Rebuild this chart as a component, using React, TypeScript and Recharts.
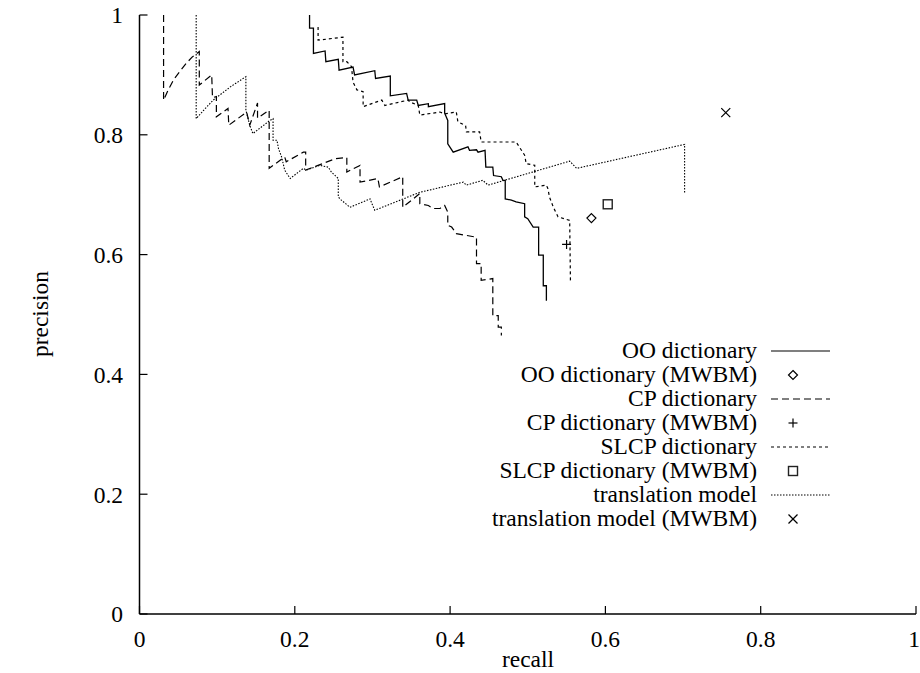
import React from 'react';
import {
  ComposedChart,
  Line,
  Scatter,
  XAxis,
  YAxis,
  Legend,
  Label
} from 'recharts';

const FONT = 'Liberation Serif';
const FS = 23.5;

// tick values
const xTicks = [0, 0.2, 0.4, 0.6, 0.8, 1];
const yTicks = [0, 0.2, 0.4, 0.6, 0.8, 1];

// OO dictionary
const ooRecall = [0.219, 0.219, 0.224, 0.224, 0.239, 0.240, 0.256, 0.257, 0.275, 0.277, 0.303, 0.304, 0.323, 0.323, 0.344, 0.346, 0.357, 0.359, 0.372, 0.372, 0.393, 0.393, 0.397, 0.397, 0.404, 0.423, 0.425, 0.434, 0.436, 0.445, 0.446, 0.455, 0.456, 0.466, 0.468, 0.471, 0.471, 0.479, 0.485, 0.496, 0.496, 0.500, 0.507, 0.514, 0.514, 0.520, 0.520, 0.524, 0.524];
const ooPrecision = [1.000, 0.978, 0.978, 0.936, 0.940, 0.922, 0.926, 0.908, 0.913, 0.900, 0.907, 0.894, 0.898, 0.865, 0.869, 0.858, 0.858, 0.849, 0.852, 0.847, 0.852, 0.836, 0.824, 0.785, 0.771, 0.780, 0.774, 0.775, 0.771, 0.774, 0.746, 0.746, 0.732, 0.730, 0.724, 0.724, 0.693, 0.691, 0.688, 0.685, 0.663, 0.660, 0.646, 0.646, 0.599, 0.599, 0.548, 0.548, 0.523];

// CP dictionary
const cpRecall = [0.031, 0.031, 0.037, 0.044, 0.052, 0.060, 0.068, 0.077, 0.077, 0.093, 0.094, 0.099, 0.099, 0.114, 0.115, 0.138, 0.142, 0.152, 0.152, 0.167, 0.167, 0.187, 0.189, 0.211, 0.214, 0.214, 0.252, 0.267, 0.267, 0.284, 0.284, 0.307, 0.309, 0.339, 0.339, 0.361, 0.361, 0.372, 0.378, 0.387, 0.393, 0.397, 0.397, 0.402, 0.408, 0.434, 0.434, 0.440, 0.440, 0.455, 0.455, 0.462, 0.462, 0.466, 0.466];
const cpPrecision = [1.000, 0.858, 0.875, 0.892, 0.906, 0.919, 0.930, 0.939, 0.883, 0.900, 0.862, 0.864, 0.830, 0.844, 0.816, 0.838, 0.816, 0.853, 0.828, 0.841, 0.744, 0.763, 0.755, 0.771, 0.771, 0.741, 0.760, 0.762, 0.738, 0.749, 0.721, 0.727, 0.713, 0.730, 0.679, 0.702, 0.685, 0.682, 0.677, 0.677, 0.682, 0.671, 0.649, 0.646, 0.635, 0.629, 0.585, 0.585, 0.557, 0.560, 0.498, 0.498, 0.479, 0.479, 0.465];

// SLCP dictionary
const slcpRecall = [0.230, 0.230, 0.262, 0.262, 0.267, 0.273, 0.275, 0.280, 0.288, 0.288, 0.312, 0.316, 0.346, 0.348, 0.359, 0.361, 0.387, 0.393, 0.408, 0.410, 0.420, 0.421, 0.438, 0.440, 0.485, 0.496, 0.498, 0.509, 0.509, 0.524, 0.526, 0.528, 0.533, 0.539, 0.554, 0.555];
const slcpPrecision = [0.980, 0.958, 0.963, 0.922, 0.922, 0.914, 0.888, 0.875, 0.872, 0.847, 0.858, 0.849, 0.858, 0.855, 0.849, 0.833, 0.838, 0.835, 0.838, 0.822, 0.815, 0.805, 0.805, 0.788, 0.788, 0.766, 0.752, 0.749, 0.713, 0.716, 0.710, 0.696, 0.679, 0.663, 0.657, 0.554];

// translation model
const tmRecall = [0.073, 0.073, 0.084, 0.095, 0.117, 0.137, 0.137, 0.142, 0.146, 0.168, 0.172, 0.172, 0.177, 0.179, 0.183, 0.187, 0.194, 0.211, 0.215, 0.232, 0.243, 0.247, 0.256, 0.256, 0.260, 0.271, 0.297, 0.299, 0.303, 0.361, 0.417, 0.421, 0.442, 0.449, 0.554, 0.563, 0.702, 0.702];
const tmPrecision = [1.000, 0.827, 0.843, 0.858, 0.880, 0.897, 0.841, 0.816, 0.802, 0.824, 0.827, 0.791, 0.791, 0.777, 0.763, 0.741, 0.727, 0.744, 0.741, 0.749, 0.746, 0.738, 0.727, 0.696, 0.691, 0.679, 0.693, 0.686, 0.674, 0.704, 0.721, 0.716, 0.724, 0.716, 0.756, 0.744, 0.784, 0.701];

// MWBM single points: OO, CP, SLCP, translation
const mwbmRecall = [0.582, 0.550, 0.603, 0.755];
const mwbmPrecision = [0.661, 0.617, 0.684, 0.837];

const legendLabels = [
  'OO dictionary',
  'OO dictionary (MWBM)',
  'CP dictionary',
  'CP dictionary (MWBM)',
  'SLCP dictionary',
  'SLCP dictionary (MWBM)',
  'translation model',
  'translation model (MWBM)'
];

const toPoints = (xs: number[], ys: number[]) => xs.map((x, i) => ({ x, y: ys[i] }));

const DASH = {
  oo: undefined,
  cp: '7 4',
  slcp: '3 3',
  tm: '1.5 1.5'
};

// marker shapes
const drawMarker = (kind: string, cx: number, cy: number) => {
  const s = 4.5;
  switch (kind) {
    case 'diamond':
      return <path d={`M${cx},${cy - s}L${cx + s},${cy}L${cx},${cy + s}L${cx - s},${cy}Z`} fill="none" stroke="#000" strokeWidth={1.2} />;
    case 'plus':
      return (
        <g stroke="#000" strokeWidth={1.2}>
          <line x1={cx - s} y1={cy} x2={cx + s} y2={cy} />
          <line x1={cx} y1={cy - s} x2={cx} y2={cy + s} />
        </g>
      );
    case 'square':
      return <rect x={cx - s} y={cy - s} width={2 * s} height={2 * s} fill="none" stroke="#222" strokeWidth={1.4} />;
    default:
      return (
        <g stroke="#000" strokeWidth={1.2}>
          <line x1={cx - s} y1={cy - s} x2={cx + s} y2={cy + s} />
          <line x1={cx - s} y1={cy + s} x2={cx + s} y2={cy - s} />
        </g>
      );
  }
};

const markerKinds = ['diamond', 'plus', 'square', 'cross'];

const renderLegend = () => {
  const rowY = (i: number) => 351 + i * 24;
  const samples: Array<{ dash?: string; marker?: string }> = [
    { dash: 'solid' },
    { marker: 'diamond' },
    { dash: DASH.cp },
    { marker: 'plus' },
    { dash: DASH.slcp },
    { marker: 'square' },
    { dash: DASH.tm },
    { marker: 'cross' }
  ];
  return (
    <svg width={920} height={673} style={{ position: 'absolute', left: 0, top: 0 }}>
      {legendLabels.map((label, i) => (
        <g key={label}>
          <text x={757} y={rowY(i) + 7} textAnchor="end" style={{ fontFamily: FONT, fontSize: FS }} fill="#000">
            {label}
          </text>
          {samples[i].marker
            ? drawMarker(samples[i].marker as string, 793, rowY(i))
            : (
              <line
                x1={771}
                x2={830}
                y1={rowY(i)}
                y2={rowY(i)}
                stroke="#000"
                strokeWidth={1.2}
                strokeDasharray={samples[i].dash === 'solid' ? undefined : samples[i].dash}
              />
            )}
        </g>
      ))}
    </svg>
  );
};

const tickStyle = { fill: '#000', fontSize: FS, fontFamily: FONT, style: { fontFamily: FONT } };

export default function App() {
  const series = [
    { key: 'oo', data: toPoints(ooRecall, ooPrecision), dash: DASH.oo, width: 1.3 },
    { key: 'cp', data: toPoints(cpRecall, cpPrecision), dash: DASH.cp, width: 1.2 },
    { key: 'slcp', data: toPoints(slcpRecall, slcpPrecision), dash: DASH.slcp, width: 1.2 },
    { key: 'tm', data: toPoints(tmRecall, tmPrecision), dash: DASH.tm, width: 1.1 }
  ];
  const mwbm = toPoints(mwbmRecall, mwbmPrecision);

  return (
    <div style={{ position: 'absolute', left: 0, top: 0, width: 920, height: 673, background: '#fff', fontFamily: FONT }}>
      <ComposedChart width={920} height={673} margin={{ top: 15, right: 4, bottom: 0, left: 0 }}>
        <XAxis
          xAxisId="b"
          type="number"
          dataKey="x"
          domain={[0, 1]}
          ticks={xTicks}
          allowDataOverflow
          height={59}
          tickSize={-8}
          tickMargin={24}
          tick={tickStyle}
          tickLine={{ stroke: '#000', strokeWidth: 1.2 }}
          axisLine={{ stroke: '#000', strokeWidth: 1.5 }}
        >
          <Label
            content={() => (
              <text x={528} y={667} textAnchor="middle" style={{ fontFamily: FONT, fontSize: FS }} fill="#000">
                recall
              </text>
            )}
          />
        </XAxis>
        <XAxis
          xAxisId="t"
          orientation="top"
          type="number"
          dataKey="x"
          domain={[0, 1]}
          ticks={xTicks}
          allowDataOverflow
          height={0}
          tickSize={-8}
          tickFormatter={() => ''}
          tickLine={{ stroke: '#000', strokeWidth: 1.2 }}
          axisLine={{ stroke: '#000', strokeWidth: 1.5 }}
        />
        <YAxis
          yAxisId="l"
          type="number"
          dataKey="y"
          domain={[0, 1]}
          ticks={yTicks}
          allowDataOverflow
          width={139.5}
          tickSize={-8}
          tickMargin={24.5}
          tick={tickStyle}
          tickLine={{ stroke: '#000', strokeWidth: 1.2 }}
          axisLine={{ stroke: '#000', strokeWidth: 1.5 }}
        >
          <Label
            content={() => (
              <text
                x={48}
                y={314}
                transform="rotate(-90 48 314)"
                textAnchor="middle"
                style={{ fontFamily: FONT, fontSize: FS }}
                fill="#000"
              >
                precision
              </text>
            )}
          />
        </YAxis>
        <YAxis
          yAxisId="r"
          orientation="right"
          type="number"
          dataKey="y"
          domain={[0, 1]}
          ticks={yTicks}
          allowDataOverflow
          width={0}
          tickSize={-8}
          tickFormatter={() => ''}
          tickLine={{ stroke: '#000', strokeWidth: 1.2 }}
          axisLine={{ stroke: '#000', strokeWidth: 1.5 }}
        />
        {series.map(s => (
          <Line
            key={s.key}
            xAxisId="b"
            yAxisId="l"
            data={s.data}
            dataKey="y"
            type="linear"
            stroke="#000"
            strokeWidth={s.width}
            strokeDasharray={s.dash}
            dot={false}
            activeDot={false}
            isAnimationActive={false}
          />
        ))}
        {mwbm.map((p, i) => (
          <Scatter
            key={`mwbm-${i}`}
            xAxisId="b"
            yAxisId="l"
            data={[p]}
            dataKey="y"
            isAnimationActive={false}
            shape={(props: any) => drawMarker(markerKinds[i], props.cx, props.cy)}
          />
        ))}
        <Legend
          content={renderLegend}
          layout="vertical"
          align="center"
          verticalAlign="middle"
          wrapperStyle={{ position: 'absolute', left: 0, top: 0, width: 920, height: 673, pointerEvents: 'none' }}
        />
      </ComposedChart>
    </div>
  );
}
